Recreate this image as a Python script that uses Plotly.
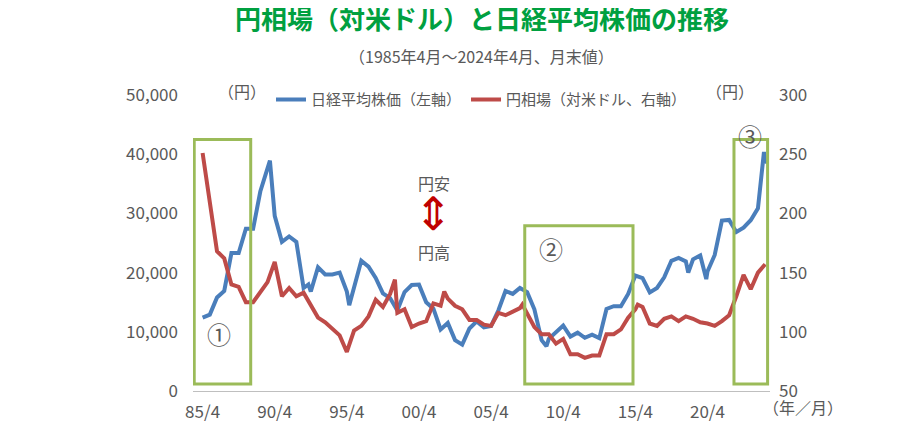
import plotly.graph_objects as go

# Nikkei 225 month-end values
nk_dates = ["1985-04", "1985-10", "1986-04", "1986-10", "1987-04", "1987-10", "1988-04", "1988-10",
            "1989-04", "1989-12", "1990-04", "1990-10", "1991-04", "1991-10", "1992-04", "1992-08",
            "1992-10", "1993-04", "1993-10", "1994-04", "1994-10", "1995-04", "1995-06", "1995-10",
            "1996-04", "1996-10", "1997-04", "1997-10", "1998-04", "1998-10", "1999-04", "1999-10",
            "2000-04", "2000-10", "2001-04", "2001-10", "2002-04", "2002-10", "2003-04", "2003-10",
            "2004-04", "2004-10", "2005-04", "2005-10", "2006-04", "2006-10", "2007-04", "2007-10",
            "2008-04", "2008-10", "2009-02", "2009-04", "2009-10", "2010-04", "2010-10", "2011-04",
            "2011-10", "2012-04", "2012-10", "2013-04", "2013-10", "2014-04", "2014-10", "2015-04",
            "2015-10", "2016-04", "2016-10", "2017-04", "2017-10", "2018-04", "2018-10", "2018-12",
            "2019-04", "2019-10", "2020-03", "2020-04", "2020-10", "2021-04", "2021-10", "2022-04",
            "2022-10", "2023-04", "2023-10", "2024-03", "2024-04"]
nk_values = [12400, 12900, 15800, 16900, 23300, 23300, 27400, 27400,
             33700, 38900, 29600, 25200, 26100, 25200, 17400, 18000,
             16800, 20900, 19700, 19700, 19990, 16800, 14500, 17650,
             22000, 21000, 19100, 16500, 15700, 13600, 16700, 17900,
             17970, 15000, 13900, 10400, 11500, 8600, 7830, 10560,
             11760, 10770, 11000, 13600, 16900, 16400, 17400, 16700,
             13800, 8580, 7570, 8800, 10000, 11050, 9200, 9850,
             8990, 9520, 8930, 13860, 14330, 14300, 16400, 19500,
             19080, 16660, 17400, 19200, 22000, 22470, 21900, 20000,
             22250, 22900, 18900, 20190, 22980, 28800, 28900, 26850,
             27590, 28850, 30860, 40370, 38400]

# USD/JPY month-end values
fx_dates = ["1985-04", "1985-10", "1986-04", "1986-10", "1987-04", "1987-10", "1988-04", "1988-10",
            "1989-04", "1989-10", "1990-04", "1990-10", "1991-04", "1991-10", "1992-04", "1992-10",
            "1993-04", "1993-10", "1994-04", "1994-10", "1995-04", "1995-10", "1996-04", "1996-10",
            "1997-04", "1997-10", "1998-04", "1998-08", "1998-10", "1999-04", "1999-10", "2000-04",
            "2000-10", "2001-04", "2001-10", "2002-01", "2002-04", "2002-10", "2003-04", "2003-10",
            "2004-04", "2004-10", "2005-04", "2005-10", "2006-04", "2006-10", "2007-04", "2007-06",
            "2007-10", "2008-04", "2008-10", "2009-04", "2009-10", "2010-04", "2010-10", "2011-04",
            "2011-10", "2012-04", "2012-10", "2013-04", "2013-10", "2014-04", "2014-10", "2015-04",
            "2015-06", "2015-10", "2016-04", "2016-10", "2017-04", "2017-10", "2018-04", "2018-10",
            "2019-04", "2019-10", "2020-04", "2020-10", "2021-04", "2021-10", "2022-04", "2022-10",
            "2023-04", "2023-10", "2024-04"]
fx_values = [251, 212, 168, 162, 140, 138, 125, 125,
             133, 142, 159, 130, 137, 130, 133, 123,
             112, 108, 103, 97, 83, 101, 105, 113,
             127, 121, 132, 144, 116, 119, 104, 107,
             109, 124, 122, 134, 128, 122, 119, 110,
             110, 106, 105, 116, 114, 117, 120, 123,
             115, 104, 98, 98, 90, 94, 81, 81,
             78, 80, 80, 98, 98, 102, 112, 119,
             123, 121, 107, 105, 111, 113, 109, 113,
             111, 108, 107, 105, 109, 114, 130, 148,
             136, 150, 157]

tick_vals = ["1985-04", "1990-04", "1995-04", "2000-04", "2005-04", "2010-04", "2015-04", "2020-04"]
tick_text = ["85/4", "90/4", "95/4", "00/4", "05/4", "10/4", "15/4", "20/4"]

grey = "#595959"
font = "Noto Sans CJK JP"

fig = go.Figure()
fig.add_trace(go.Scatter(x=nk_dates, y=nk_values, name="日経平均株価（左軸）",
                         line=dict(color="#4a7ebb", width=4)))
fig.add_trace(go.Scatter(x=fx_dates, y=fx_values, name="円相場（対米ドル、右軸）", yaxis="y2",
                         line=dict(color="#be4b48", width=4)))

# green highlight boxes
for x0, x1, y0, y1 in [("1984-09", "1988-08", 1200, 42500),
                       ("2007-08", "2015-02", 1200, 27900),
                       ("2022-02", "2024-06", 1200, 42500)]:
    fig.add_shape(type="rect", xref="x", yref="y", x0=x0, x1=x1, y0=y0, y1=y1,
                  line=dict(color="#9bbb59", width=3))

ann = [
    dict(x=0.04, y=1.06, text="（円）"),
    dict(x=0.975, y=1.06, text="（円）"),
    dict(x=0.02, y=0.13, text="①", size=24),
    dict(x=0.62, y=0.48, text="②", size=24),
    dict(x=0.99, y=0.93, text="③", size=24),
    dict(x=0.417, y=0.75, text="円安", size=16),
    dict(x=0.417, y=0.47, text="円高", size=16),
    dict(x=0.417, y=0.61, text="⇕", size=46, color="#c00000"),
]
for a in ann:
    fig.add_annotation(xref="paper", yref="paper", x=a["x"], y=a["y"], text=a["text"],
                       showarrow=False, font=dict(family=font, size=a.get("size", 16),
                                                  color=a.get("color", grey)))
fig.add_annotation(xref="paper", yref="paper", x=1.13, y=-0.1, text="（年／月）",
                   showarrow=False, font=dict(family=font, size=16, color=grey))
fig.add_annotation(xref="paper", yref="paper", x=0.5, y=1.33, showarrow=False,
                   text="<b>円相場（対米ドル）と日経平均株価の推移</b>",
                   font=dict(family=font, size=26, color="#00a040"))
fig.add_annotation(xref="paper", yref="paper", x=0.5, y=1.18, showarrow=False,
                   text="（1985年4月～2024年4月、月末値）",
                   font=dict(family=font, size=16, color=grey))

fig.update_layout(
    width=900, height=430,
    margin=dict(l=185, r=138, t=87, b=47),
    paper_bgcolor="white", plot_bgcolor="white",
    font=dict(family=font, size=17, color=grey),
    legend=dict(orientation="h", x=0.5, xanchor="center", y=1.04, yanchor="top",
                font=dict(size=15), bgcolor="rgba(0,0,0,0)"),
    xaxis=dict(type="date", range=["1984-08", "2024-08"], tickvals=tick_vals, ticktext=tick_text,
               showgrid=False, showline=True, linecolor="#bfbfbf", linewidth=1, ticks="",
               ticklabelstandoff=6),
    yaxis=dict(range=[0, 50000], tickvals=[0, 10000, 20000, 30000, 40000, 50000],
               tickformat=",", showgrid=False, zeroline=False, ticklabelstandoff=14),
    yaxis2=dict(range=[50, 300], overlaying="y", side="right", dtick=50,
                showgrid=False, zeroline=False, ticklabelstandoff=8),
    showlegend=True,
)

fig.write_html("out.html")
